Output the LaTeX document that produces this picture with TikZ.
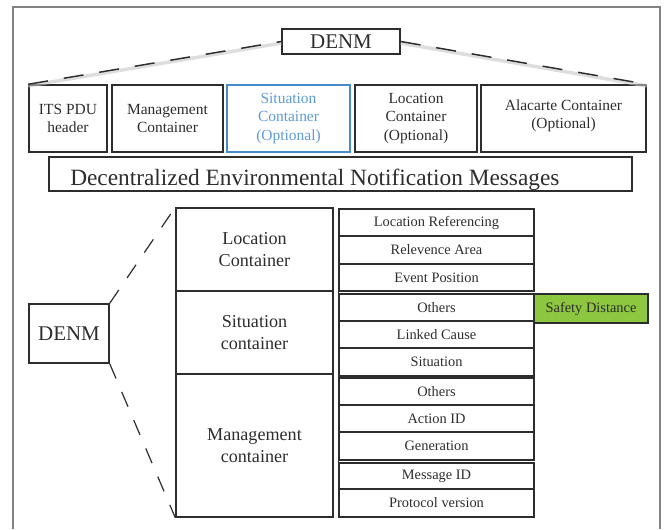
\documentclass[tikz,border=0pt]{standalone}
\usepackage{fontspec}
\setmainfont{Liberation Serif}
\usetikzlibrary{fit}
\definecolor{ink}{RGB}{45,45,45}
\definecolor{framegray}{RGB}{130,130,130}
\definecolor{optblue}{RGB}{70,140,205}
\definecolor{opttext}{RGB}{95,155,215}
\definecolor{safegreen}{RGB}{141,198,63}

\begin{document}
\begin{tikzpicture}[x=0.75pt,y=-0.75pt,
  box/.style={draw=ink, line width=1.1pt, inner sep=0pt},
  txt/.style={inner sep=0pt, align=center, text=ink},
  topfont/.style={font=\fontsize{11.6}{13.7}\selectfont},
  colfont/.style={font=\fontsize{13.6}{16.2}\selectfont},
  fieldfont/.style={font=\fontsize{10.8}{13}\selectfont},
  bigfont/.style={font=\fontsize{15.7}{18}\selectfont},
  toplink/.style={ink, line width=1.1pt, dash pattern=on 15pt off 12pt},
  topshade/.style={black!22, line width=2.6pt, opacity=0.6},
  lowlink/.style={ink, line width=0.9pt, dash pattern=on 12pt off 11pt}
]
\useasboundingbox (0,0) rectangle (667,529);

% outer frame, open at the bottom
\draw[framegray, line width=1.1pt] (13,529) |- (660,7) -- (660,529);

% ---- message layout ----
\node[box, fit={(282,29)(400,54)}] (denmtop) {};
\node[txt, bigfont] (denmtopt) at (denmtop) {DENM};

\node[box, fit={(29,85)(107,152)}] (its) {};
\node[txt, topfont] (itst) at (its) {ITS PDU\\header};
\node[box, fit={(112,85)(223,152)}] (mgmt) {};
\node[txt, topfont] (mgmtt) at (mgmt) {Management\\Container};
\node[box, draw=optblue, fit={(227,85)(350,152)}] (sit) {};
\node[txt, topfont, text=opttext] (sitt) at (sit) {Situation\\Container\\(Optional)};
\node[box, fit={(355,85)(477,152)}] (loc) {};
\node[txt, topfont] (loct) at (loc) {Location\\Container\\(Optional)};
\node[box, fit={(481,85)(646,152)}] (alc) {};
\node[txt, topfont] (alct) at ([yshift=2pt]alc.center) {Alacarte Container\\(Optional)};

\node[box, fit={(49,157)(632,191)}] (msgs) {};
\node[anchor=base west, inner sep=0pt, text=ink, font=\fontsize{17.5}{20}\selectfont]
  (msgstext) at (70,185) {Decentralized Environmental Notification Messages};

% dashed fan from DENM to the container row
\draw[topshade] ([yshift=-1.2pt]its.north west) -- ([yshift=-1.2pt]denmtop.west);
\draw[topshade] ([yshift=-1.2pt]denmtop.east) -- ([yshift=-1.2pt]alc.north east);
\draw[toplink] (its.north west) -- (denmtop.west);
\draw[toplink] (denmtop.east) -- (alc.north east);

% ---- container detail ----
\node[box, fit={(29,304)(109,363)}] (denmlow) {};
\node[txt, bigfont] (denmlowt) at (denmlow) {DENM};

\node[box, fit={(176,208)(333,291)}] (locc) {};
\node[txt, colfont] (locct) at (locc) {Location\\Container};
\node[box, fit={(176,291)(333,374)}] (sitc) {};
\node[txt, colfont] (sitct) at (sitc) {Situation\\container};
\node[box, fit={(176,374)(333,517)}] (mgtc) {};
\node[txt, colfont] (mgtct) at (mgtc) {Management\\container};

% field column: name/top/bottom
\foreach \n/\t/\b/\lbl in {
    f1/209/236/Location Referencing,
    f2/236/264/Relevence Area,
    f3/264/291/Event Position,
    f4/294/321/Others,
    f5/321/348/Linked Cause,
    f6/348/376/Situation,
    f7/378/405/Others,
    f8/405/432/Action ID,
    f9/432/460/Generation,
    f10/463/489/Message ID,
    f11/489/517/Protocol version} {
  \node[box, fit={(339,\t)(534,\b)}] (\n) {};
  \node[txt, fieldfont] (\n t) at (\n) {\lbl};
}

\node[box, fill=safegreen, fit={(534,294)(648,323)}] (safety) {};
\node[txt, fieldfont] (safetyt) at (safety) {Safety Distance};

% continuous rail along the left side of the field column
\draw[ink, line width=1.1pt] (f1.north west) -- (f11.south west);

% dashed fan from DENM to the container column
\draw[lowlink] (denmlow.north east) -- (locc.north west);
\draw[lowlink] (denmlow.south east) -- (mgtc.south west);
\end{tikzpicture}
\end{document}
